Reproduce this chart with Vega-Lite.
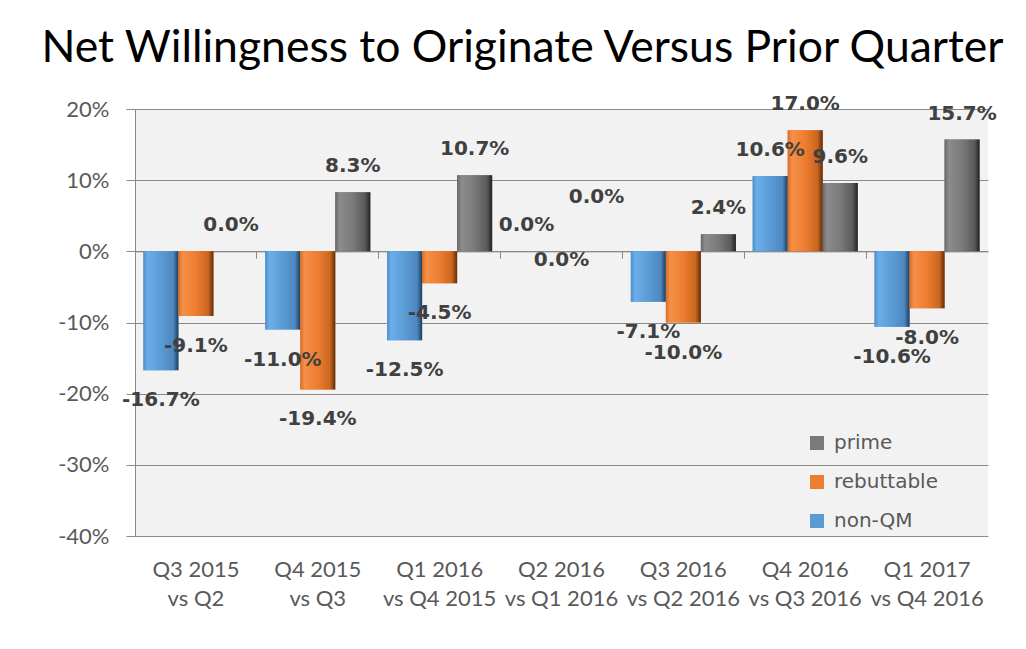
{
  "$schema": "https://vega.github.io/schema/vega-lite/v6.json",
  "width": 853,
  "height": 427,
  "autosize": {"type": "none"},
  "padding": {"left": 135, "top": 109, "right": 38, "bottom": 113},
  "background": "#ffffff",
  "title": {
    "text": "Net Willingness to Originate Versus Prior Quarter",
    "font": "Lato",
    "fontSize": 44.5,
    "fontWeight": "normal",
    "color": "#000000",
    "anchor": "middle",
    "frame": "group",
    "dx": -39,
    "baseline": "alphabetic",
    "offset": -12
  },
  "config": {
    "view": {"fill": "#f2f2f2", "stroke": null},
    "locale": {"number": {"decimal": ".", "thousands": ",", "grouping": [3], "currency": ["$", ""], "minus": "-", "percent": "%"}}
  },
  "data": {
    "values": [
      {"cat": "Q3 2015 vs Q2", "series": "non-QM", "value": -0.167},
      {"cat": "Q3 2015 vs Q2", "series": "rebuttable", "value": -0.091},
      {"cat": "Q3 2015 vs Q2", "series": "prime", "value": 0.0},
      {"cat": "Q4 2015 vs Q3", "series": "non-QM", "value": -0.110},
      {"cat": "Q4 2015 vs Q3", "series": "rebuttable", "value": -0.194},
      {"cat": "Q4 2015 vs Q3", "series": "prime", "value": 0.083},
      {"cat": "Q1 2016 vs Q4 2015", "series": "non-QM", "value": -0.125},
      {"cat": "Q1 2016 vs Q4 2015", "series": "rebuttable", "value": -0.045},
      {"cat": "Q1 2016 vs Q4 2015", "series": "prime", "value": 0.107},
      {"cat": "Q2 2016 vs Q1 2016", "series": "non-QM", "value": 0.0},
      {"cat": "Q2 2016 vs Q1 2016", "series": "rebuttable", "value": 0.0},
      {"cat": "Q2 2016 vs Q1 2016", "series": "prime", "value": 0.0},
      {"cat": "Q3 2016 vs Q2 2016", "series": "non-QM", "value": -0.071},
      {"cat": "Q3 2016 vs Q2 2016", "series": "rebuttable", "value": -0.100},
      {"cat": "Q3 2016 vs Q2 2016", "series": "prime", "value": 0.024},
      {"cat": "Q4 2016 vs Q3 2016", "series": "non-QM", "value": 0.106},
      {"cat": "Q4 2016 vs Q3 2016", "series": "rebuttable", "value": 0.170},
      {"cat": "Q4 2016 vs Q3 2016", "series": "prime", "value": 0.096},
      {"cat": "Q1 2017 vs Q4 2016", "series": "non-QM", "value": -0.106},
      {"cat": "Q1 2017 vs Q4 2016", "series": "rebuttable", "value": -0.080},
      {"cat": "Q1 2017 vs Q4 2016", "series": "prime", "value": 0.157}
    ]
  },
  "resolve": {"axis": {"x": "independent"}},
  "encoding": {
    "xOffset": {
      "field": "series", "type": "nominal",
      "scale": {"domain": ["non-QM", "rebuttable", "prime"], "paddingInner": 0, "paddingOuter": 0.24}
    },
    "y": {
      "field": "value", "type": "quantitative",
      "scale": {"domain": [-0.4, 0.2], "nice": false, "zero": false},
      "axis": {
        "title": null, "values": [-0.4, -0.3, -0.2, -0.1, 0, 0.1, 0.2], "format": ".0%",
        "grid": true, "gridColor": "#8a8a8a", "domain": true, "domainColor": "#8a8a8a",
        "ticks": true, "tickSize": 9, "tickColor": "#8a8a8a",
        "labelFont": "Lato", "labelFontSize": 22, "labelColor": "#595959", "labelPadding": 17
      }
    }
  },
  "layer": [
    {
      "mark": {"type": "bar"},
      "encoding": {
        "x": {
          "field": "cat", "type": "nominal", "sort": null,
          "scale": {"paddingInner": 0, "paddingOuter": 0},
          "axis": {
            "orient": "bottom", "title": null, "domain": false, "ticks": false,
            "labelAngle": 0, "labelExpr": "[slice(datum.label,0,7), slice(datum.label,8)]",
            "labelFont": "Lato", "labelFontSize": 22, "labelColor": "#595959",
            "labelPadding": 23, "labelLineHeight": 29
          }
        },
        "color": {
          "field": "series", "type": "nominal",
          "scale": {"domain": ["prime", "rebuttable", "non-QM"], "range": ["#7a7a7a", "#ed7d31", "#5b9bd5"]},
          "legend": {
            "orient": "none", "legendX": 672, "legendY": 324, "title": null,
            "symbolType": "square", "symbolSize": 196, "symbolStrokeWidth": 0,
            "labelFont": "DejaVu Sans", "labelFontSize": 20, "labelColor": "#595959",
            "rowPadding": 19, "labelOffset": 7
          }
        }
      }
    },
    {
      "transform": [{"filter": "datum.series == 'non-QM'"}],
      "mark": {"type": "bar", "fill": {"gradient": "linear", "x1": 0, "x2": 1, "y1": 0, "y2": 0, "stops": [
        {"offset": 0, "color": "#4f8fc9"}, {"offset": 0.12, "color": "#6aaeea"}, {"offset": 0.5, "color": "#5b9bd5"}, {"offset": 0.85, "color": "#4d88bf"}, {"offset": 1, "color": "#1f3d5c"}]}},
      "encoding": {
        "x": {
          "field": "cat", "type": "nominal", "sort": null,
          "axis": {
            "orient": "bottom", "offset": -284.67, "title": null, "labels": false, "grid": false,
            "domain": true, "domainColor": "#8a8a8a", "ticks": true, "tickSize": 7, "tickColor": "#8a8a8a", "bandPosition": 0
          }
        }
      }
    },
    {
      "transform": [{"filter": "datum.series == 'rebuttable'"}],
      "mark": {"type": "bar", "fill": {"gradient": "linear", "x1": 0, "x2": 1, "y1": 0, "y2": 0, "stops": [
        {"offset": 0, "color": "#d96c26"}, {"offset": 0.12, "color": "#f59048"}, {"offset": 0.5, "color": "#ed7d31"}, {"offset": 0.85, "color": "#c9661f"}, {"offset": 1, "color": "#5e2c0a"}]}},
      "encoding": {
        "x": {"field": "cat", "type": "nominal", "sort": null, "axis": null}
      }
    },
    {
      "transform": [{"filter": "datum.series == 'prime'"}],
      "mark": {"type": "bar", "fill": {"gradient": "linear", "x1": 0, "x2": 1, "y1": 0, "y2": 0, "stops": [
        {"offset": 0, "color": "#666666"}, {"offset": 0.12, "color": "#8c8c8c"}, {"offset": 0.5, "color": "#7a7a7a"}, {"offset": 0.85, "color": "#5a5a5a"}, {"offset": 1, "color": "#222222"}]}},
      "encoding": {
        "x": {"field": "cat", "type": "nominal", "sort": null, "axis": null}
      }
    },
    {
      "transform": [{"filter": "datum.value >= 0 && !(datum.cat == 'Q2 2016 vs Q1 2016' && datum.series != 'non-QM')"}],
      "mark": {"type": "text", "font": "DejaVu Sans", "fontWeight": "bold", "fontSize": 20, "color": "#404040", "baseline": "middle", "dy": -26},
      "encoding": {
        "x": {"field": "cat", "type": "nominal", "sort": null, "axis": null},
        "text": {"field": "value", "type": "quantitative", "format": ".1%"}
      }
    },
    {
      "transform": [{"filter": "datum.value < 0"}],
      "mark": {"type": "text", "font": "DejaVu Sans", "fontWeight": "bold", "fontSize": 20, "color": "#404040", "baseline": "middle", "dy": 30},
      "encoding": {
        "x": {"field": "cat", "type": "nominal", "sort": null, "axis": null},
        "text": {"field": "value", "type": "quantitative", "format": ".1%"}
      }
    },
    {
      "transform": [{"filter": "datum.cat == 'Q2 2016 vs Q1 2016' && datum.series == 'rebuttable'"}],
      "mark": {"type": "text", "font": "DejaVu Sans", "fontWeight": "bold", "fontSize": 20, "color": "#404040", "baseline": "middle", "dy": 9},
      "encoding": {
        "x": {"field": "cat", "type": "nominal", "sort": null, "axis": null},
        "text": {"field": "value", "type": "quantitative", "format": ".1%"}
      }
    },
    {
      "transform": [{"filter": "datum.cat == 'Q2 2016 vs Q1 2016' && datum.series == 'prime'"}],
      "mark": {"type": "text", "font": "DejaVu Sans", "fontWeight": "bold", "fontSize": 20, "color": "#404040", "baseline": "middle", "dy": -54},
      "encoding": {
        "x": {"field": "cat", "type": "nominal", "sort": null, "axis": null},
        "text": {"field": "value", "type": "quantitative", "format": ".1%"}
      }
    }
  ]
}
